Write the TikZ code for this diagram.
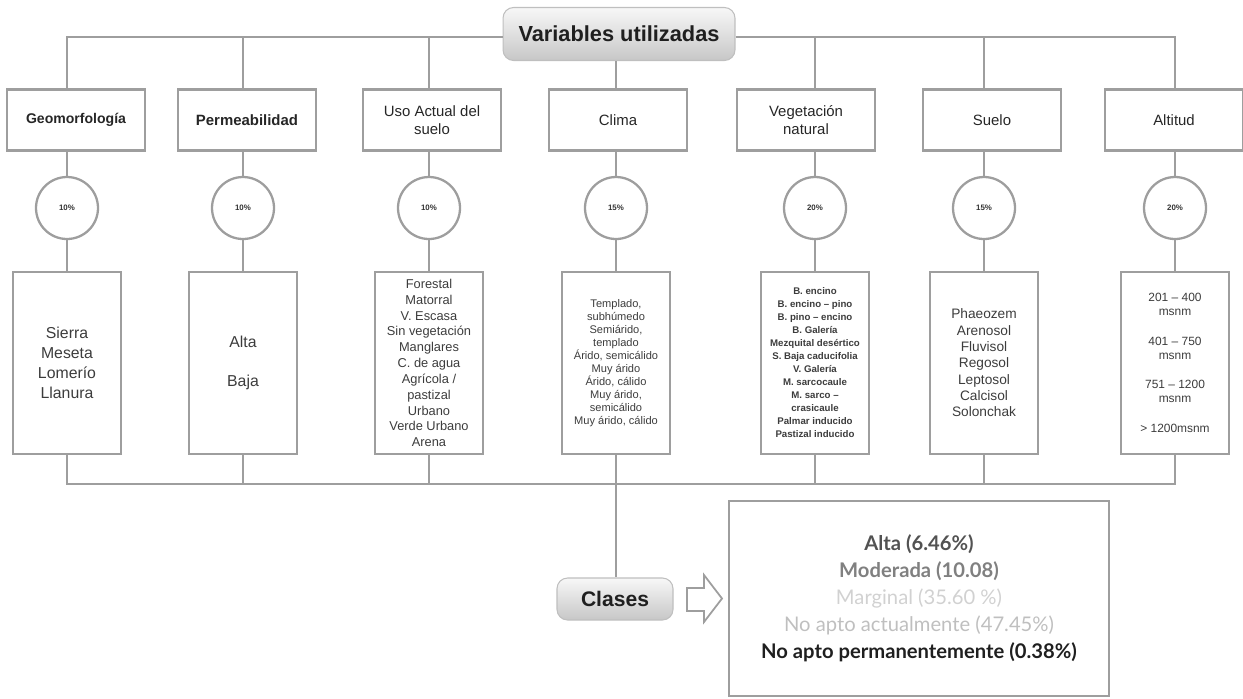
\documentclass[tikz,border=0pt]{standalone}
\usepackage{fontspec}
\setmainfont{Liberation Sans}
\newfontfamily\latofont{Lato}
\usetikzlibrary{calc}

\definecolor{linegray}{RGB}{158,158,158}
\definecolor{textgray}{RGB}{60,60,60}

\begin{document}
\begin{tikzpicture}[x=0.02cm, y=-0.02cm, line width=1.3pt,
    wire/.style={draw=linegray},
    varbox/.style={draw=linegray, minimum width=2.76cm, minimum height=1.22cm, align=center, text=black!85, font=\fontsize{8.5}{10}\selectfont},
    weight/.style={draw=linegray, circle, minimum size=1.24cm, inner sep=0pt, text=black!80, font=\bfseries\fontsize{4.5}{5}\selectfont},
    listbox/.style={draw=linegray, minimum width=2.16cm, minimum height=3.64cm, inner sep=0.5pt, align=center, text=textgray},
    headbox/.style={draw=black!25, line width=0.6pt, rounded corners=6pt, top color=black!3, bottom color=black!22, text=black!88}]
  \useasboundingbox (0,0) rectangle (1243,698);
  \coordinate (topbus) at (0,37);
  \coordinate (lowbus) at (0,484);

  % title
  \node[headbox, minimum width=4.64cm, minimum height=1.06cm, font=\bfseries\fontsize{12.4}{14}\selectfont] (vars) at (619,34) {Variables utilizadas};

  % variables
  \node[varbox, font=\bfseries\fontsize{8}{10}\selectfont] (geo) at (76,120) {Geomorfología};
  \node[varbox, font=\bfseries\fontsize{8.5}{10}\selectfont] (perm) at (247,120) {Permeabilidad};
  \node[varbox] (uso) at (432,120) {Uso Actual del\\suelo};
  \node[varbox] (clima) at (618,120) {Clima};
  \node[varbox] (veg) at (806,120) {Vegetación\\natural};
  \node[varbox] (suelo) at (992,120) {Suelo};
  \node[varbox] (alt) at (1174,120) {Altitud};

  % weights
  \node[weight] (geow) at (67,208) {10\%};
  \node[weight] (permw) at (243,208) {10\%};
  \node[weight] (usow) at (429,208) {10\%};
  \node[weight] (climaw) at (616,208) {15\%};
  \node[weight] (vegw) at (815,208) {20\%};
  \node[weight] (suelow) at (984,208) {15\%};
  \node[weight] (altw) at (1175,208) {20\%};

  % categories
  \node[listbox, font=\fontsize{9}{11.3}\selectfont] (geol) at (67,363) {Sierra\\Meseta\\Lomerío\\Llanura};
  \node[listbox, font=\fontsize{9}{11.3}\selectfont] (perml) at (243,363) {Alta\\[11pt]Baja};
  \node[listbox, font=\fontsize{7.3}{9}\selectfont] (usol) at (429,363) {Forestal\\Matorral\\V. Escasa\\Sin vegetación\\Manglares\\C. de agua\\Agrícola /\\pastizal\\Urbano\\Verde Urbano\\Arena};
  \node[listbox, font=\fontsize{6.3}{7.4}\selectfont] (climal) at (616,363) {Templado,\\subhúmedo\\Semiárido,\\templado\\Árido, semicálido\\Muy árido\\Árido, cálido\\Muy árido,\\semicálido\\Muy árido, cálido};
  \node[listbox, font=\bfseries\fontsize{5.5}{7.4}\selectfont] (vegl) at (815,363) {B. encino\\B. encino -- pino\\B. pino -- encino\\B. Galería\\Mezquital desértico\\S. Baja caducifolia\\V. Galería\\M. sarcocaule\\M. sarco --\\crasicaule\\Palmar inducido\\Pastizal inducido};
  \node[listbox, font=\fontsize{7.8}{9.3}\selectfont] (suelol) at (984,363) {Phaeozem\\Arenosol\\Fluvisol\\Regosol\\Leptosol\\Calcisol\\Solonchak};
  \node[listbox, font=\fontsize{6.8}{7.9}\selectfont] (altl) at (1175,363) {201 -- 400\\msnm\\[9pt]401 -- 750\\msnm\\[9pt]751 -- 1200\\msnm\\[9pt]> 1200msnm};

  % classes
  \node[headbox, minimum width=2.32cm, minimum height=0.84cm, font=\bfseries\fontsize{12}{14}\selectfont] (clases) at (615,599) {Clases};
  \node[draw=linegray, minimum width=7.6cm, minimum height=3.9cm, align=center, font=\latofont\fontsize{11.5}{15.3}\selectfont] (result) at (919,598.5) {%
    \textcolor{black!68}{\bfseries Alta (6.46\%)}\\
    \textcolor{black!50}{\bfseries Moderada (10.08)}\\
    \textcolor{black!18}{Marginal (35.60 \%)}\\
    \textcolor{black!25}{No apto actualmente (47.45\%)}\\
    \textcolor{black!88}{\bfseries No apto permanentemente (0.38\%)}};
  \draw[draw=linegray, fill=white, line width=1pt] (687,588) -- (704,588) -- (704,575) -- (722,598.5) -- (704,622) -- (704,611) -- (687,611) -- cycle;

  % upper connectors
  \draw[wire] (vars.west |- topbus) -| (geow |- geo.north);
  \draw[wire] (vars.east |- topbus) -| (altw |- alt.north);
  \draw[wire] (permw |- topbus) -- (permw |- perm.north);
  \draw[wire] (usow |- topbus) -- (usow |- uso.north);
  \draw[wire] (climaw |- vars.south) -- (climaw |- clima.north);
  \draw[wire] (vegw |- topbus) -- (vegw |- veg.north);
  \draw[wire] (suelow |- topbus) -- (suelow |- suelo.north);

  \draw[wire] (geow |- geo.south) -- (geow.north);
  \draw[wire] (permw |- perm.south) -- (permw.north);
  \draw[wire] (usow |- uso.south) -- (usow.north);
  \draw[wire] (climaw |- clima.south) -- (climaw.north);
  \draw[wire] (vegw |- veg.south) -- (vegw.north);
  \draw[wire] (suelow |- suelo.south) -- (suelow.north);
  \draw[wire] (altw |- alt.south) -- (altw.north);

  \draw[wire] (geow.south) -- (geol.north);
  \draw[wire] (permw.south) -- (perml.north);
  \draw[wire] (usow.south) -- (usol.north);
  \draw[wire] (climaw.south) -- (climal.north);
  \draw[wire] (vegw.south) -- (vegl.north);
  \draw[wire] (suelow.south) -- (suelol.north);
  \draw[wire] (altw.south) -- (altl.north);

  % lower connectors
  \draw[wire] (geol.south) |- (altl.south |- lowbus) -- (altl.south);
  \draw[wire] (perml.south) -- (perml.south |- lowbus);
  \draw[wire] (usol.south) -- (usol.south |- lowbus);
  \draw[wire] (climal.south) -- (climal.south |- clases.north);
  \draw[wire] (vegl.south) -- (vegl.south |- lowbus);
  \draw[wire] (suelol.south) -- (suelol.south |- lowbus);
\end{tikzpicture}
\end{document}
